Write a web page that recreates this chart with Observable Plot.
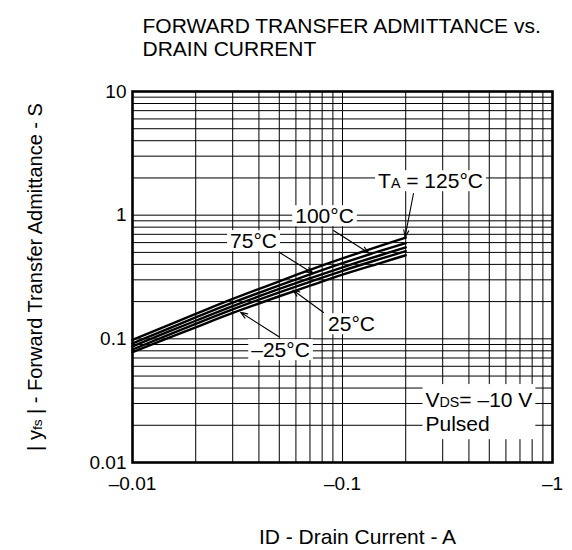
<!DOCTYPE html>
<html><head><meta charset="utf-8">
<script src="https://cdn.jsdelivr.net/npm/d3@7"></script>
<script src="https://cdn.jsdelivr.net/npm/@observablehq/plot@0.6"></script>
<style>
html,body{margin:0;padding:0;background:#fff;}
svg text{font-family:"Liberation Sans",Arial,sans-serif;}
</style></head><body>
<div id="chart"></div>
<script>
// Drain current magnitude (A) — axis shows negative values
const currents = [0.01, 0.02, 0.03, 0.05, 0.07, 0.1, 0.15, 0.2];
const temps = ["125", "100", "75", "25", "-25"];
const yfs125 = [0.098, 0.159, 0.210, 0.292, 0.361, 0.447, 0.562, 0.659];
const yfs100 = [0.092, 0.149, 0.196, 0.271, 0.332, 0.409, 0.511, 0.594];
const yfs75  = [0.087, 0.140, 0.184, 0.253, 0.309, 0.379, 0.472, 0.548];
const yfs25  = [0.082, 0.132, 0.173, 0.237, 0.289, 0.355, 0.441, 0.512];
const yfsM25 = [0.078, 0.124, 0.162, 0.221, 0.269, 0.330, 0.408, 0.474];
const seriesValues = [yfs125, yfs100, yfs75, yfs25, yfsM25];

const xTicks = [0.01, 0.1, 1];
const xTickLabels = ["–0.01", "–0.1", "–1"];
const yTicks = [0.01, 0.1, 1, 10];
const yTickLabels = ["0.01", "0.1", "1", "10"];
const mantissas = [1, 2, 3, 4, 5, 6, 7, 8, 9];
const xDecades = [0.01, 0.1];
const yDecades = [0.01, 0.1, 1];

const labelText = ["T{A} = 125°C", "100°C", "75°C", "25°C", "–25°C"];
const labelX = [0.2625, 0.0821, 0.0377, 0.1104, 0.0507];
const labelY = [1.872, 0.976, 0.613, 0.1307, 0.0806];
const arrowX1 = [0.2178, 0.0906, 0.0501, 0.0812, 0.0496];
const arrowY1 = [1.497, 0.752, 0.4994, 0.1634, 0.1046];
const arrowX2 = [0.1984, 0.1334, 0.0725, 0.058, 0.0327];
const arrowY2 = [0.664, 0.495, 0.338, 0.248, 0.164];
const condText = ["V{DS}= –10 V", "Pulsed"];
const condX = [0.2485, 0.2485];
const condY = [0.0318, 0.0203];

const titleText = "FORWARD TRANSFER ADMITTANCE vs.\nDRAIN CURRENT";
const xLabel = "ID - Drain Current - A";
const yLabel = "| y{fs} | - Forward Transfer Admittance - S";

// build tables
const curveData = [];
temps.forEach((t, k) => currents.forEach((c, i) => curveData.push({temp: t, x: c, y: seriesValues[k][i]})));
const xGrid = xDecades.flatMap(d => mantissas.map(m => +(d * m).toPrecision(3))).concat([1]);
const yGrid = yDecades.flatMap(d => mantissas.map(m => +(d * m).toPrecision(3))).concat([10]);
const idx5 = d3.range(labelText.length);

const plot = Plot.plot({
  width: 572, height: 550,
  marginLeft: 132, marginRight: 20, marginTop: 91, marginBottom: 88,
  style: {fontFamily: '"Liberation Sans", Arial, sans-serif', fontSize: "19px", color: "black", background: "white"},
  x: {type: "log", domain: [0.01, 1]},
  y: {type: "log", domain: [0.01, 10]},
  marks: [
    Plot.ruleX(xGrid, {stroke: "black", strokeWidth: 1}),
    Plot.ruleY(yGrid, {stroke: "black", strokeWidth: 1}),
    Plot.line(curveData, {x: "x", y: "y", z: "temp", stroke: "black", strokeWidth: 2.4, curve: "catmull-rom"}),
    Plot.arrow(idx5, {x1: i => arrowX1[i], y1: i => arrowY1[i], x2: i => arrowX2[i], y2: i => arrowY2[i],
      stroke: "black", strokeWidth: 1.1, headLength: 10, headAngle: 40}),
    Plot.text(idx5, {x: i => labelX[i], y: i => labelY[i], text: i => labelText[i], fontSize: 21, fill: "black", className: "boxed"}),
    Plot.text([0, 1], {x: i => condX[i], y: i => condY[i], text: i => condText[i], fontSize: 21, fill: "black", textAnchor: "start", className: "boxgroup"}),
    Plot.axisX({ticks: xTicks, tickFormat: d => xTickLabels[xTicks.indexOf(d)], tickSize: 0, tickPadding: 14, label: null, fontSize: 19}),
    Plot.axisY({ticks: yTicks, tickFormat: d => yTickLabels[yTicks.indexOf(d)], tickSize: 0, tickPadding: 6, label: null, fontSize: 19}),
    Plot.text([xLabel], {frameAnchor: "bottom", dx: 15, dy: 75, text: d => d, fontSize: 21, fill: "black", lineAnchor: "middle"}),
    Plot.text([yLabel], {frameAnchor: "left", dx: -97, text: d => d, fontSize: 20, fill: "black", rotate: -90, textAnchor: "middle", lineAnchor: "middle", className: "ylab"}),
    Plot.text([titleText], {frameAnchor: "top-left", dx: 10, dy: -75, text: d => d, fontSize: 21, fill: "black", textAnchor: "start", lineAnchor: "top", lineHeight: 1.1}),
    Plot.frame({stroke: "black", strokeWidth: 2.6})
  ]
});
document.getElementById("chart").appendChild(plot);

// subscripts: text inside {} is drawn smaller
plot.querySelectorAll("text").forEach(t => {
  const s = t.textContent;
  if (!s.includes("{")) return;
  t.textContent = "";
  s.split(/(\{[^}]*\})/).forEach(part => {
    if (!part) return;
    const ts = document.createElementNS("http://www.w3.org/2000/svg", "tspan");
    if (part.startsWith("{")) {
      ts.textContent = part.slice(1, -1);
      ts.setAttribute("font-size", "0.68em");
    } else ts.textContent = part;
    t.appendChild(ts);
  });
});

// white boxes behind annotation labels
const svgBox = plot.getBoundingClientRect();
function addBox(g, r, padX, padY) {
  const rect = document.createElementNS("http://www.w3.org/2000/svg", "rect");
  rect.setAttribute("x", r.left - svgBox.left - padX);
  rect.setAttribute("y", r.top - svgBox.top - padY);
  rect.setAttribute("width", r.right - r.left + 2 * padX);
  rect.setAttribute("height", r.bottom - r.top + 2 * padY);
  rect.setAttribute("fill", "white");
  g.parentNode.insertBefore(rect, g);
}
plot.querySelectorAll("g.boxed").forEach(g => {
  g.querySelectorAll("text").forEach(t => addBox(g, t.getBoundingClientRect(), 3, -1));
});
plot.querySelectorAll("g.boxgroup").forEach(g => {
  let l = Infinity, tp = Infinity, r = -Infinity, b = -Infinity;
  g.querySelectorAll("text").forEach(t => {
    const bb = t.getBoundingClientRect();
    l = Math.min(l, bb.left); tp = Math.min(tp, bb.top); r = Math.max(r, bb.right); b = Math.max(b, bb.bottom);
  });
  addBox(g, {left: l, top: tp, right: r, bottom: b}, 3, 4);
});
</script>
</body></html>
